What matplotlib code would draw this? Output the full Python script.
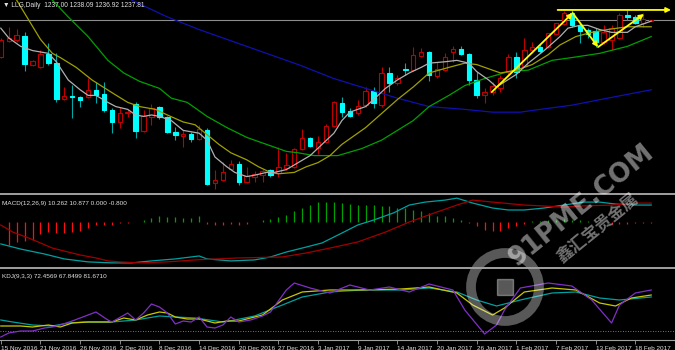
import numpy as np
import matplotlib
matplotlib.use("Agg")
import matplotlib.pyplot as plt
from matplotlib.patches import Rectangle, Circle

plt.rcParams["font.family"] = ["Liberation Sans", "DejaVu Sans"]

# ---- LLG daily candles (15 Nov 2016 - 20 Feb 2017) ----
opens = [1211.4, 1222.8, 1223.5, 1226.4, 1205.7, 1204.3, 1213.5, 1207.1, 1181.4, 1183.6,
         1182.8, 1182.8, 1187.8, 1185.0, 1173.6, 1165.0, 1171.4, 1177.8, 1158.6, 1168.6,
         1175.7, 1168.6, 1157.9, 1155.0, 1156.4, 1152.9, 1159.3, 1121.4, 1123.6, 1131.4,
         1135.0, 1122.2, 1125.7, 1127.2, 1130.7, 1128.6, 1132.1, 1132.9, 1145.7, 1153.6,
         1146.4, 1150.7, 1162.1, 1178.6, 1172.8, 1171.4, 1177.1, 1187.1, 1177.1, 1200.0,
         1192.8, 1202.8, 1202.1, 1212.1, 1215.0, 1197.8, 1202.1, 1215.0, 1217.1, 1213.5,
         1195.0, 1184.3, 1186.4, 1189.3, 1200.7, 1211.4, 1205.0, 1216.4, 1218.5, 1218.5,
         1227.8, 1235.0, 1242.8, 1234.3, 1230.7, 1230.0, 1222.1, 1223.5, 1225.0, 1241.4,
         1240.0, 1235.7, 1237.00]
highs = [1225.0, 1232.8, 1231.4, 1229.3, 1209.3, 1216.4, 1221.4, 1214.3, 1190.0, 1191.4,
         1183.6, 1196.4, 1193.6, 1193.6, 1175.0, 1175.7, 1173.6, 1179.3, 1173.6, 1177.8,
         1176.4, 1169.3, 1161.4, 1159.3, 1157.9, 1162.9, 1160.7, 1130.7, 1136.4, 1137.9,
         1137.1, 1132.9, 1130.0, 1131.4, 1131.4, 1147.1, 1142.9, 1146.4, 1160.0, 1154.3,
         1155.0, 1163.6, 1180.0, 1182.8, 1175.0, 1180.7, 1190.0, 1190.0, 1204.3, 1204.3,
         1198.5, 1207.1, 1218.5, 1217.8, 1215.7, 1207.8, 1214.3, 1219.3, 1219.3, 1214.3,
         1200.7, 1189.3, 1193.6, 1198.5, 1213.5, 1215.0, 1225.0, 1222.1, 1220.7, 1223.5,
         1235.7, 1244.2, 1245.0, 1235.7, 1232.1, 1232.1, 1234.3, 1234.3, 1242.8, 1245.0,
         1241.4, 1242.8, 1238.09]
lows = [1210.7, 1222.1, 1222.1, 1201.4, 1205.0, 1203.5, 1205.7, 1179.3, 1180.7, 1167.9,
        1175.7, 1182.1, 1178.6, 1172.1, 1157.1, 1160.7, 1168.6, 1153.6, 1157.9, 1162.9,
        1167.1, 1157.1, 1152.1, 1147.1, 1150.7, 1152.1, 1120.0, 1117.2, 1122.9, 1130.7,
        1120.0, 1121.4, 1122.2, 1122.2, 1125.7, 1125.7, 1130.7, 1132.1, 1145.0, 1147.1,
        1142.1, 1150.0, 1161.4, 1168.6, 1168.6, 1170.0, 1175.7, 1175.0, 1175.7, 1186.4,
        1191.4, 1198.5, 1201.4, 1211.4, 1194.3, 1196.4, 1201.4, 1207.8, 1212.8, 1191.4,
        1182.1, 1178.6, 1184.3, 1186.4, 1197.8, 1196.4, 1204.3, 1214.3, 1214.3, 1217.8,
        1227.1, 1234.3, 1232.8, 1221.4, 1225.0, 1218.5, 1220.7, 1216.4, 1224.3, 1237.8,
        1235.0, 1232.8, 1236.92]
closes = [1223.5, 1225.0, 1227.1, 1206.4, 1208.5, 1213.5, 1207.1, 1181.4, 1183.6, 1182.8,
          1180.7, 1187.8, 1184.3, 1173.6, 1165.0, 1171.4, 1172.1, 1158.6, 1169.3, 1175.0,
          1168.6, 1157.9, 1155.7, 1156.4, 1152.9, 1160.0, 1120.7, 1123.6, 1129.3, 1135.0,
          1122.2, 1126.4, 1127.9, 1130.0, 1127.2, 1132.9, 1134.3, 1145.7, 1153.6, 1147.9,
          1150.7, 1162.1, 1179.3, 1172.1, 1169.3, 1176.4, 1187.1, 1178.6, 1200.0, 1192.8,
          1196.4, 1202.1, 1212.8, 1215.0, 1198.5, 1202.8, 1211.4, 1217.1, 1213.5, 1195.0,
          1184.3, 1186.4, 1190.7, 1196.4, 1211.4, 1200.7, 1216.4, 1218.5, 1215.7, 1228.5,
          1235.7, 1242.8, 1234.3, 1230.0, 1227.8, 1222.1, 1229.3, 1232.1, 1241.4, 1240.0,
          1235.7, 1238.5, 1237.81]

date_labels = ["15 Nov 2016", "21 Nov 2016", "26 Nov 2016", "2 Dec 2016", "8 Dec 2016",
               "14 Dec 2016", "20 Dec 2016", "27 Dec 2016", "3 Jan 2017", "9 Jan 2017",
               "14 Jan 2017", "20 Jan 2017", "26 Jan 2017", "1 Feb 2017", "7 Feb 2017",
               "13 Feb 2017", "18 Feb 2017"]

# moving averages, read at sample bars (bar index, price)
ma_gray_idx = [0, 1, 2.5, 4, 6, 7, 8.5, 10, 11, 12, 13.5, 14.5, 16, 17, 18, 19, 20, 21.5, 23, 25,
               26, 27, 28.5, 29.5, 31, 32, 33.5, 34.5, 36, 37.5, 39, 40.5, 42, 43, 44, 46, 47, 48.5, 50, 51.5,
               53, 54, 56, 57.5, 59, 60, 61.5, 62.5, 65, 66.5, 68.5, 70.5, 71.5, 73, 74, 75.5, 77, 79, 80, 82]
ma_gray = [1232, 1225, 1219, 1216, 1214, 1208, 1195, 1188, 1184, 1184, 1179, 1176, 1174, 1170, 1169, 1170, 1169, 1166, 1159, 1157,
           1152, 1140, 1133, 1129, 1126, 1127, 1129, 1129, 1131, 1136, 1141, 1149, 1157, 1166, 1172, 1176, 1181, 1189, 1195, 1200,
           1204, 1207, 1208, 1209, 1207, 1201, 1195, 1190, 1199, 1207, 1216, 1226, 1232, 1234, 1234, 1231, 1229, 1229, 1233, 1237]
ma_olive_idx = [2, 3.5, 5, 6.5, 7.5, 9.5, 11.5, 14, 16, 17.5, 19.5, 21, 23, 24.5, 26, 27.5, 29, 31, 32.5, 34,
                35, 37, 38.5, 40, 41.5, 43, 46, 48, 50, 52, 54, 56.5, 58.5, 60, 62, 63, 65, 67, 69, 70.5,
                72.5, 74.5, 76.5, 79, 82]
ma_olive = [1252, 1238, 1224, 1214, 1211, 1204, 1195, 1186, 1179, 1176, 1174, 1170, 1165, 1163, 1156, 1149, 1143, 1138, 1133, 1129,
            1128, 1129, 1133, 1136, 1141, 1149, 1161, 1171, 1181, 1190, 1200, 1204, 1207, 1206, 1202, 1200, 1202, 1206, 1213, 1220,
            1226, 1229, 1231, 1233, 1233]
ma_green_idx = [6.5, 8.5, 11, 13.5, 15.5, 17.5, 20, 21.5, 23.5, 26, 28.5, 31, 33.5, 36, 37.5, 39.5, 41, 42.5, 45.5, 48,
                50, 52, 54, 56.5, 58.5, 61, 64, 66.5, 69.5, 72, 75.5, 79, 82]
ma_green = [1252, 1240, 1226, 1209, 1200, 1194, 1189, 1182, 1179, 1169, 1161, 1154, 1149, 1144, 1143, 1141, 1141, 1141, 1146, 1152,
            1159, 1166, 1176, 1184, 1191, 1196, 1201, 1202, 1209, 1211, 1214, 1219, 1226]
ma_blue_idx = [16.5, 21, 25, 30, 33.5, 37.5, 42, 46, 50, 54, 58.5, 62, 65.5, 68, 72, 76.5, 82]
ma_blue = [1252, 1240, 1231, 1221, 1214, 1206, 1196, 1189, 1182, 1176, 1174, 1172, 1172, 1174, 1177, 1182, 1188]

# MACD(12,26,9)
macd_hist = [np.nan, -13.7, -12.3, -11.7, -10.7, -7.1, -6.3, -6.7, -6.7, -5.9,
             -5.5, -3.6, -2.0, -2.0, -1.6, -0.6, -0.4, 0.2, 1.0, 2.4,
             3.4, 3.0, 3.0, 2.4, 2.4, 3.4, -1.2, -2.0, -2.0, -1.4,
             -1.6, -1.0, 0.2, 1.0, 1.8, 3.0, 4.4, 6.5, 8.5, 10.5,
             11.9, 12.1, 11.9, 11.5, 11.1, 10.5, 10.5, 10.5, 9.5, 9.5,
             8.5, 8.5, 7.5, 6.5, 5.5, 3.8, 3.4, 2.4, 1.4, -0.6,
             -2.6, -4.6, -5.5, -5.3, -3.8, -2.6, -1.0, 0.4, 0.6, 1.0,
             1.4, 1.6, 1.4, 1.0, 0.6, 0.2, -0.2, -1.2, -1.2, -1.0,
             -0.6, -0.6, -0.8]
macd_idx = [0, 2.5, 5.5, 8, 11, 14, 16.5, 19, 22, 25, 26, 29, 32, 34, 36, 38.5, 40.5, 43, 45, 47,
            49.5, 51.5, 53.5, 56, 57.5, 59.5, 62, 64, 66, 68.5, 71, 73.5, 75.5, 77.5, 80, 82]
macd_line = [-13.3, -16.4, -19.4, -22.4, -24.2, -24.8, -24.8, -23.6, -22.4, -20.6, -22.4, -23.6, -23.0, -21.2, -18.2, -15.2,
             -12.7, -6.7, -1.8, 1.2, 5.5, 10.3, 12.1, 13.3, 14.5, 11.5, 8.5, 7.3, 7.3, 8.5, 10.3, 12.1, 12.1, 10.9, 10.3, 10.3]
signal_idx = [0, 1.5, 3.5, 5, 6.5, 8.5, 10, 12, 13.5, 15, 17.5, 21, 24.5, 30, 35.5, 38.5, 41.5, 45, 48.5, 51.5,
              55, 57.5, 59.5, 62, 66, 71, 73, 77, 80.5, 82]
signal_line = [-1.8, -6.1, -9.7, -12.7, -15.8, -18.2, -20.0, -21.8, -23.6, -24.2, -24.8, -24.2, -23.0, -21.8, -21.2,
               -18.8, -15.8, -12.1, -6.1, 0.0, 6.1, 10.3, 13.3, 12.1, 10.3, 9.1, 9.7, 10.3, 11.5, 11.5]

# KDJ(9,3,3)
k_idx = [0, 2.5, 4, 6, 7.5, 9, 11, 14, 15.5, 17, 18.5, 20, 21, 22, 23.5, 25, 27, 28.5, 30, 33,
         35.5, 38, 41.5, 45.5, 50.5, 54, 57.5, 59.5, 62, 63.5, 66, 69.5, 72.5, 75.5, 77.5, 79.5, 82]
k_vals = [10, 10, 8, 12, 8, 16, 18, 18, 26, 22, 32, 38, 36, 28, 24, 24, 16, 20, 20, 32,
          62, 78, 82, 82, 84, 88, 76, 52, 32, 46, 78, 86, 82, 56, 50, 66, 72]
d_idx = [0, 1.5, 4, 6.5, 8.5, 10.5, 14, 17, 20, 22, 24.5, 28, 29.5, 32, 35.5, 38, 41.5, 45.5, 50.5, 54,
         57.5, 60, 62.5, 65.5, 69.5, 72.5, 75.5, 78, 82]
d_vals = [22, 18, 12, 10, 16, 18, 18, 22, 30, 28, 26, 18, 22, 30, 52, 68, 78, 82, 82, 86,
          78, 62, 50, 62, 76, 78, 66, 62, 68]
j_idx = [0, 1, 2.5, 4, 5.5, 6.5, 7.5, 9, 11, 12, 13.5, 14, 16, 17, 18, 19, 20, 21, 22, 23,
         24, 25, 26, 27, 28, 29, 30, 31.5, 33, 34, 36, 37, 39, 41.5, 44, 46.5, 49, 51.5, 54, 57,
         58.5, 61, 62.5, 63.5, 65.5, 69, 72, 74.5, 77, 78, 80, 82]
j_vals = [-12, -4, 0, 0, 6, 8, 12, 20, 32, 38, 22, 18, 36, 22, 36, 54, 48, 36, 14, 20,
          18, 28, 8, 6, 12, 28, 18, 22, 30, 38, 82, 96, 86, 76, 92, 82, 88, 78, 94, 82,
          42, -6, 12, 42, 86, 96, 90, 62, 16, 52, 76, 82]

# hand-drawn yellow trend arrows (bar index, price)
trend_arrows = [((61.9, 1186.4), (72.1, 1242.8)),
                ((72.1, 1242.8), (75.3, 1218.5)),
                ((75.3, 1218.5), (81.1, 1242.1)),
                ((70.2, 1245.0), (84.5, 1245.0))]

BG = "black"
UP = "#c00000"
DOWN = "#00ffff"
DOWN_WICK = "#00a8a8"
TXT = "#e0e0e0"
SEP = "#a0a0a0"
W, H = 675.0, 350.0

fig = plt.figure(figsize=(6.75, 3.5), dpi=100, facecolor=BG)


def panel(top, bottom):
    a = fig.add_axes([0, 1 - bottom / H, 1, (bottom - top) / H])
    a.set_facecolor(BG)
    a.set_xlim(-0.1, 85.0)
    for s in a.spines.values():
        s.set_visible(False)
    a.set_xticks([])
    a.set_yticks([])
    return a


ax = panel(0, 192)
ax_macd = panel(195, 267)
ax_kdj = panel(269, 340)

# ---- main price panel ----
ax.set_ylim(1115.0, 1252.1)
x = np.arange(len(closes))
up = np.array(closes) >= np.array(opens)
ax.vlines(x, lows, highs, colors=[UP if u else DOWN_WICK for u in up], lw=0.8, zorder=2)
for i in x:
    o, c = opens[i], closes[i]
    body = max(abs(c - o), 0.4)
    ax.add_patch(Rectangle((i - 0.28, min(o, c)), 0.56, body,
                           facecolor=BG if up[i] else DOWN,
                           edgecolor=UP if up[i] else DOWN, lw=0.8, zorder=2.5))

ax.axhline(closes[-1], color="#8c8c8c", lw=0.8, zorder=1.5)
ax.plot(ma_blue_idx, ma_blue, color="#1010b0", lw=0.9, zorder=3)
ax.plot(ma_green_idx, ma_green, color="#00a000", lw=0.9, zorder=3)
ax.plot(ma_olive_idx, ma_olive, color="#a0a000", lw=0.9, zorder=3)
ax.plot(ma_gray_idx, ma_gray, color="#b0b0b0", lw=0.9, zorder=3)

for start, end in trend_arrows:
    ax.annotate("", xy=end, xytext=start, zorder=5,
                arrowprops=dict(arrowstyle="-|>", color="#ffff00", lw=1.3,
                                mutation_scale=7, shrinkA=0, shrinkB=0))

ax.text(0.004, 0.988, "\u25bc LLG,Daily  1237.00 1238.09 1236.92 1237.81", transform=ax.transAxes,
        va="top", ha="left", color=TXT, fontsize=4.8)

# ---- MACD panel ----
ax_macd.set_ylim(-27.3, 16.4)
hist = np.array(macd_hist)
ax_macd.vlines(x, 0, hist, colors=["#ff1010" if h < 0 else "#00a000" for h in np.nan_to_num(hist)],
               lw=0.9, zorder=2)
ax_macd.plot(macd_idx, macd_line, color="#00a0a0", lw=0.9, zorder=3)
ax_macd.plot(signal_idx, signal_line, color="#a00000", lw=0.9, zorder=3)
ax_macd.text(0.003, 0.92, "MACD(12,26,9) 10.262 10.877 0.000 -0.800", transform=ax_macd.transAxes,
             va="top", ha="left", color=TXT, fontsize=4.6)

# ---- KDJ panel ----
ax_kdj.set_ylim(-18, 124)
ax_kdj.axhline(0, color="#a0a0a0", lw=0.6, ls=(0, (1, 2)), zorder=1)
ax_kdj.plot(d_idx, d_vals, color="#00a0a0", lw=0.9, zorder=3)
ax_kdj.plot(k_idx, k_vals, color="#c8c800", lw=0.9, zorder=3)
ax_kdj.plot(j_idx, j_vals, color="#8030c8", lw=0.9, zorder=3)
ax_kdj.text(0.003, 0.93, "KDJ(9,3,3) 72.4569 67.8499 81.6710", transform=ax_kdj.transAxes,
            va="top", ha="left", color=TXT, fontsize=4.6)

ax_kdj.spines["bottom"].set_visible(True)
ax_kdj.spines["bottom"].set_color(SEP)
ax_kdj.spines["bottom"].set_linewidth(0.8)
ax_kdj.set_xticks(np.arange(0, 5 * len(date_labels), 5))
ax_kdj.set_xticklabels(date_labels)
ax_kdj.tick_params(axis="x", colors=SEP, labelcolor=TXT, length=3, width=0.6, pad=1, labelsize=4.6)
for lbl in ax_kdj.get_xticklabels():
    lbl.set_horizontalalignment("left")

# ---- overlay: panel separators and watermark ----
ov = fig.add_axes([0, 0, 1, 1], zorder=10)
ov.set_xlim(0, W)
ov.set_ylim(H, 0)
ov.axis("off")
ov.patch.set_alpha(0)
ov.hlines([193.5, 267.5], 0, W, color=SEP, lw=1.4)

ov.add_patch(Circle((505, 287), 34, fill=False, ec="white", lw=7, alpha=0.35))
ov.add_patch(Rectangle((497, 279), 16, 16, angle=0, color="white", alpha=0.35))
ov.text(582, 205, "91PME.COM", rotation=39, color="white", alpha=0.45, fontsize=19,
        fontweight="bold", ha="center", va="center", family=["DejaVu Sans"])
ov.text(598, 228, "鑫汇宝贵金属", rotation=39, color="white", alpha=0.45, fontsize=12,
        fontweight="bold", ha="center", va="center", family=["Noto Sans CJK SC", "DejaVu Sans"])

fig.savefig("out.png", dpi=100, facecolor=BG)
